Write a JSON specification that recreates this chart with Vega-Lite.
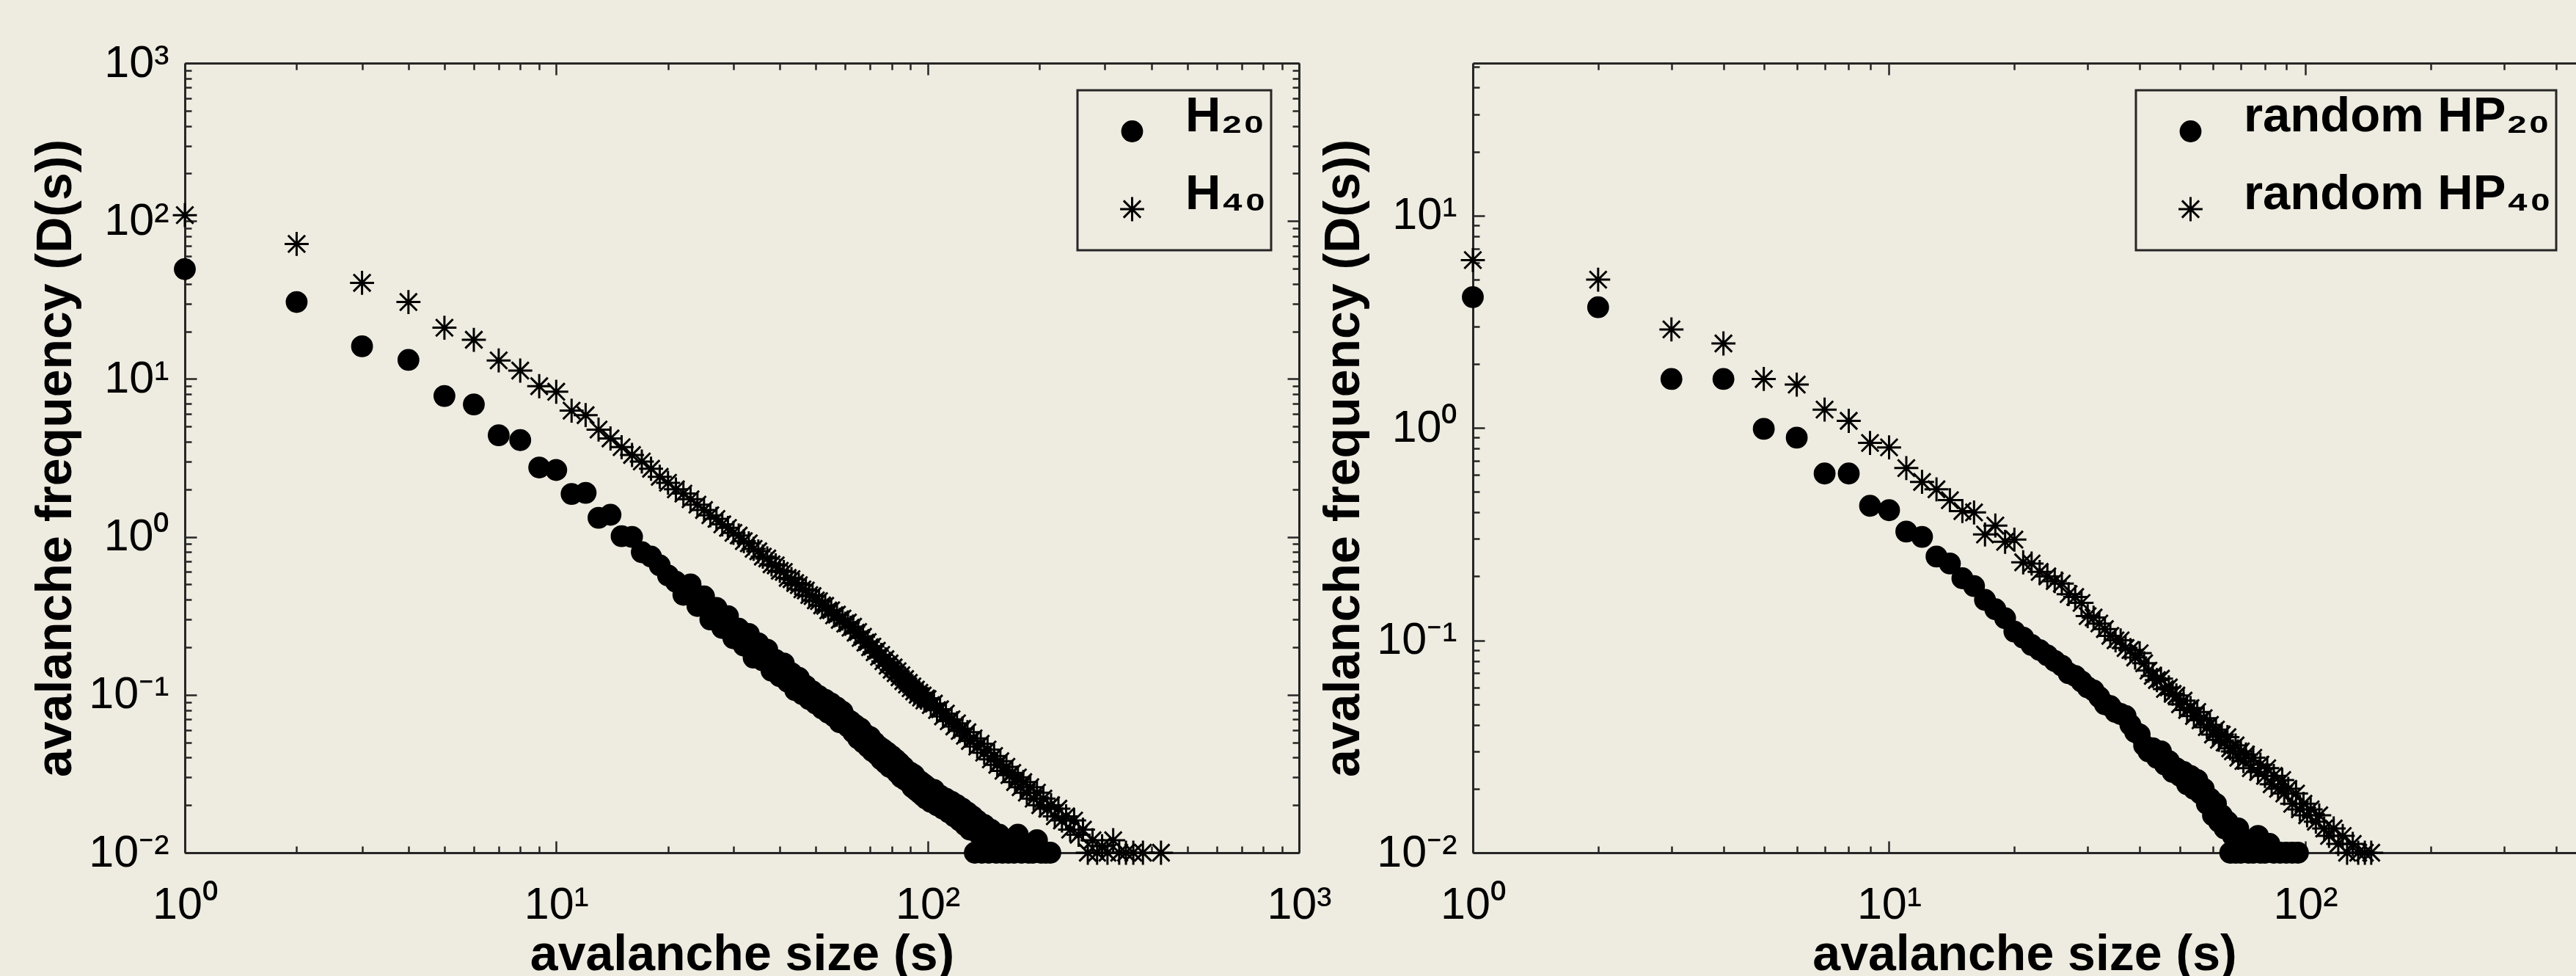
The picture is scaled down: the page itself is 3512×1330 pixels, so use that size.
{
  "$schema": "https://vega.github.io/schema/vega-lite/v6.json",
  "background": "#eeebe0",
  "padding": {"left": 42, "top": 55, "right": 0, "bottom": 0},
  "spacing": 237,
  "bounds": "flush",
  "datasets": {
    "left": [
      {"s":1,"d":49.6,"g":"H20"},{"s":2,"d":30.7,"g":"H20"},{"s":3,"d":16.1,"g":"H20"},{"s":4,"d":13.2,"g":"H20"},{"s":5,"d":7.8,"g":"H20"},{"s":6,"d":6.9,"g":"H20"},{"s":7,"d":4.4,"g":"H20"},{"s":8,"d":4.1,"g":"H20"},{"s":9,"d":2.75,"g":"H20"},{"s":10,"d":2.65,"g":"H20"},
      {"s":11,"d":1.87,"g":"H20"},{"s":12,"d":1.9,"g":"H20"},{"s":13,"d":1.32,"g":"H20"},{"s":14,"d":1.38,"g":"H20"},{"s":15,"d":1.01,"g":"H20"},{"s":16,"d":1.0,"g":"H20"},{"s":17,"d":0.8,"g":"H20"},{"s":18,"d":0.75,"g":"H20"},{"s":19,"d":0.66,"g":"H20"},{"s":20,"d":0.57,"g":"H20"},
      {"s":21,"d":0.52,"g":"H20"},{"s":22,"d":0.43,"g":"H20"},{"s":23,"d":0.5,"g":"H20"},{"s":24,"d":0.365,"g":"H20"},{"s":25,"d":0.42,"g":"H20"},{"s":26,"d":0.3,"g":"H20"},{"s":27,"d":0.355,"g":"H20"},{"s":28,"d":0.265,"g":"H20"},{"s":29,"d":0.315,"g":"H20"},{"s":30,"d":0.228,"g":"H20"},
      {"s":31,"d":0.262,"g":"H20"},{"s":32,"d":0.205,"g":"H20"},{"s":33,"d":0.243,"g":"H20"},{"s":34,"d":0.172,"g":"H20"},{"s":35,"d":0.212,"g":"H20"},{"s":36,"d":0.165,"g":"H20"},{"s":37,"d":0.193,"g":"H20"},{"s":38,"d":0.142,"g":"H20"},{"s":39,"d":0.166,"g":"H20"},{"s":40,"d":0.131,"g":"H20"},
      {"s":41,"d":0.158,"g":"H20"},{"s":42,"d":0.121,"g":"H20"},{"s":43,"d":0.137,"g":"H20"},{"s":44,"d":0.107,"g":"H20"},{"s":45,"d":0.128,"g":"H20"},{"s":46,"d":0.101,"g":"H20"},{"s":47,"d":0.114,"g":"H20"},{"s":48,"d":0.094,"g":"H20"},{"s":49,"d":0.105,"g":"H20"},{"s":50,"d":0.088,"g":"H20"},
      {"s":51,"d":0.098,"g":"H20"},{"s":52,"d":0.082,"g":"H20"},{"s":53,"d":0.093,"g":"H20"},{"s":54,"d":0.077,"g":"H20"},{"s":55,"d":0.088,"g":"H20"},{"s":56,"d":0.073,"g":"H20"},{"s":57,"d":0.083,"g":"H20"},{"s":58,"d":0.067,"g":"H20"},{"s":59,"d":0.078,"g":"H20"},
      {"s":60,"d":0.072,"g":"H20"},{"s":61,"d":0.063,"g":"H20"},{"s":62,"d":0.068,"g":"H20"},{"s":63,"d":0.058,"g":"H20"},{"s":64,"d":0.064,"g":"H20"},{"s":65,"d":0.053,"g":"H20"},{"s":66,"d":0.061,"g":"H20"},{"s":67,"d":0.05,"g":"H20"},{"s":68,"d":0.056,"g":"H20"},{"s":69,"d":0.047,"g":"H20"},
      {"s":70,"d":0.054,"g":"H20"},{"s":71,"d":0.044,"g":"H20"},{"s":72,"d":0.05,"g":"H20"},{"s":73,"d":0.042,"g":"H20"},{"s":74,"d":0.047,"g":"H20"},{"s":75,"d":0.039,"g":"H20"},{"s":76,"d":0.045,"g":"H20"},{"s":77,"d":0.037,"g":"H20"},{"s":78,"d":0.043,"g":"H20"},{"s":79,"d":0.035,"g":"H20"},
      {"s":80,"d":0.041,"g":"H20"},{"s":81,"d":0.034,"g":"H20"},{"s":82,"d":0.039,"g":"H20"},{"s":83,"d":0.032,"g":"H20"},{"s":84,"d":0.037,"g":"H20"},{"s":85,"d":0.03,"g":"H20"},{"s":86,"d":0.035,"g":"H20"},{"s":87,"d":0.029,"g":"H20"},{"s":88,"d":0.033,"g":"H20"},{"s":89,"d":0.028,"g":"H20"},
      {"s":90,"d":0.032,"g":"H20"},{"s":91,"d":0.026,"g":"H20"},{"s":92,"d":0.031,"g":"H20"},{"s":93,"d":0.025,"g":"H20"},{"s":94,"d":0.029,"g":"H20"},{"s":95,"d":0.024,"g":"H20"},{"s":96,"d":0.028,"g":"H20"},{"s":97,"d":0.023,"g":"H20"},{"s":98,"d":0.027,"g":"H20"},{"s":99,"d":0.022,"g":"H20"},
      {"s":100,"d":0.026,"g":"H20"},{"s":102,"d":0.021,"g":"H20"},{"s":104,"d":0.025,"g":"H20"},{"s":106,"d":0.02,"g":"H20"},{"s":108,"d":0.023,"g":"H20"},{"s":110,"d":0.019,"g":"H20"},{"s":112,"d":0.022,"g":"H20"},{"s":114,"d":0.018,"g":"H20"},{"s":116,"d":0.021,"g":"H20"},{"s":118,"d":0.017,"g":"H20"},
      {"s":120,"d":0.02,"g":"H20"},{"s":122,"d":0.016,"g":"H20"},{"s":124,"d":0.019,"g":"H20"},{"s":126,"d":0.015,"g":"H20"},{"s":128,"d":0.018,"g":"H20"},{"s":130,"d":0.014,"g":"H20"},{"s":132,"d":0.017,"g":"H20"},{"s":134,"d":0.01,"g":"H20"},{"s":136,"d":0.016,"g":"H20"},{"s":138,"d":0.013,"g":"H20"},
      {"s":140,"d":0.01,"g":"H20"},{"s":142,"d":0.015,"g":"H20"},{"s":144,"d":0.012,"g":"H20"},{"s":146,"d":0.01,"g":"H20"},{"s":148,"d":0.014,"g":"H20"},{"s":150,"d":0.011,"g":"H20"},{"s":153,"d":0.01,"g":"H20"},{"s":156,"d":0.013,"g":"H20"},{"s":159,"d":0.01,"g":"H20"},{"s":162,"d":0.012,"g":"H20"},
      {"s":165,"d":0.01,"g":"H20"},{"s":168,"d":0.011,"g":"H20"},{"s":171,"d":0.01,"g":"H20"},{"s":175,"d":0.013,"g":"H20"},{"s":179,"d":0.01,"g":"H20"},{"s":183,"d":0.011,"g":"H20"},{"s":187,"d":0.01,"g":"H20"},{"s":192,"d":0.01,"g":"H20"},{"s":197,"d":0.012,"g":"H20"},{"s":202,"d":0.01,"g":"H20"},
      {"s":208,"d":0.01,"g":"H20"},{"s":214,"d":0.01,"g":"H20"},

      {"s":1,"d":109,"g":"H40"},{"s":2,"d":71.6,"g":"H40"},{"s":3,"d":40.6,"g":"H40"},{"s":4,"d":30.7,"g":"H40"},{"s":5,"d":21.1,"g":"H40"},{"s":6,"d":17.7,"g":"H40"},{"s":7,"d":13.1,"g":"H40"},{"s":8,"d":11.3,"g":"H40"},{"s":9,"d":9.0,"g":"H40"},{"s":10,"d":8.3,"g":"H40"},
      {"s":11,"d":6.3,"g":"H40"},{"s":12,"d":5.9,"g":"H40"},{"s":13,"d":4.78,"g":"H40"},{"s":14,"d":4.2,"g":"H40"},{"s":15,"d":3.7,"g":"H40"},{"s":16,"d":3.3,"g":"H40"},{"s":17,"d":3.0,"g":"H40"},{"s":18,"d":2.7,"g":"H40"},{"s":19,"d":2.4,"g":"H40"},{"s":20,"d":2.2,"g":"H40"},
      {"s":21,"d":2.0,"g":"H40"},{"s":22,"d":1.88,"g":"H40"},{"s":23,"d":1.73,"g":"H40"},{"s":24,"d":1.6,"g":"H40"},{"s":25,"d":1.48,"g":"H40"},{"s":26,"d":1.37,"g":"H40"},{"s":27,"d":1.3,"g":"H40"},{"s":28,"d":1.2,"g":"H40"},{"s":29,"d":1.14,"g":"H40"},{"s":30,"d":1.06,"g":"H40"},
      {"s":31,"d":1.02,"g":"H40"},{"s":32,"d":0.94,"g":"H40"},{"s":33,"d":0.91,"g":"H40"},{"s":34,"d":0.84,"g":"H40"},{"s":35,"d":0.81,"g":"H40"},{"s":36,"d":0.75,"g":"H40"},{"s":37,"d":0.73,"g":"H40"},{"s":38,"d":0.67,"g":"H40"},{"s":39,"d":0.66,"g":"H40"},{"s":40,"d":0.61,"g":"H40"},
      {"s":41,"d":0.6,"g":"H40"},{"s":42,"d":0.55,"g":"H40"},{"s":43,"d":0.54,"g":"H40"},{"s":44,"d":0.51,"g":"H40"},{"s":45,"d":0.495,"g":"H40"},{"s":46,"d":0.465,"g":"H40"},{"s":47,"d":0.458,"g":"H40"},{"s":48,"d":0.428,"g":"H40"},{"s":49,"d":0.422,"g":"H40"},{"s":50,"d":0.396,"g":"H40"},
      {"s":51,"d":0.392,"g":"H40"},{"s":52,"d":0.368,"g":"H40"},{"s":53,"d":0.366,"g":"H40"},{"s":54,"d":0.342,"g":"H40"},{"s":55,"d":0.343,"g":"H40"},{"s":56,"d":0.318,"g":"H40"},{"s":57,"d":0.322,"g":"H40"},{"s":58,"d":0.298,"g":"H40"},{"s":59,"d":0.304,"g":"H40"},{"s":60,"d":0.282,"g":"H40"},
      {"s":61,"d":0.287,"g":"H40"},{"s":62,"d":0.266,"g":"H40"},{"s":63,"d":0.27,"g":"H40"},{"s":64,"d":0.247,"g":"H40"},{"s":65,"d":0.25,"g":"H40"},{"s":66,"d":0.229,"g":"H40"},{"s":67,"d":0.233,"g":"H40"},{"s":68,"d":0.214,"g":"H40"},{"s":69,"d":0.216,"g":"H40"},{"s":70,"d":0.2,"g":"H40"},
      {"s":71,"d":0.202,"g":"H40"},{"s":72,"d":0.186,"g":"H40"},{"s":73,"d":0.19,"g":"H40"},{"s":74,"d":0.174,"g":"H40"},{"s":75,"d":0.179,"g":"H40"},{"s":76,"d":0.163,"g":"H40"},{"s":77,"d":0.168,"g":"H40"},{"s":78,"d":0.153,"g":"H40"},{"s":79,"d":0.158,"g":"H40"},{"s":80,"d":0.144,"g":"H40"},
      {"s":81,"d":0.149,"g":"H40"},{"s":82,"d":0.137,"g":"H40"},{"s":83,"d":0.141,"g":"H40"},{"s":84,"d":0.129,"g":"H40"},{"s":85,"d":0.133,"g":"H40"},{"s":86,"d":0.122,"g":"H40"},{"s":87,"d":0.126,"g":"H40"},{"s":88,"d":0.116,"g":"H40"},{"s":89,"d":0.119,"g":"H40"},{"s":90,"d":0.11,"g":"H40"},
      {"s":91,"d":0.113,"g":"H40"},{"s":92,"d":0.105,"g":"H40"},{"s":93,"d":0.108,"g":"H40"},{"s":94,"d":0.1,"g":"H40"},{"s":95,"d":0.103,"g":"H40"},{"s":96,"d":0.096,"g":"H40"},{"s":97,"d":0.099,"g":"H40"},{"s":98,"d":0.092,"g":"H40"},{"s":99,"d":0.095,"g":"H40"},
      {"s":100,"d":0.094,"g":"H40"},{"s":102,"d":0.086,"g":"H40"},{"s":104,"d":0.088,"g":"H40"},{"s":106,"d":0.08,"g":"H40"},{"s":108,"d":0.081,"g":"H40"},{"s":110,"d":0.073,"g":"H40"},{"s":112,"d":0.076,"g":"H40"},{"s":114,"d":0.068,"g":"H40"},{"s":116,"d":0.07,"g":"H40"},{"s":118,"d":0.063,"g":"H40"},
      {"s":120,"d":0.066,"g":"H40"},{"s":122,"d":0.059,"g":"H40"},{"s":124,"d":0.061,"g":"H40"},{"s":126,"d":0.055,"g":"H40"},{"s":128,"d":0.058,"g":"H40"},{"s":130,"d":0.051,"g":"H40"},{"s":133,"d":0.053,"g":"H40"},{"s":136,"d":0.047,"g":"H40"},{"s":139,"d":0.049,"g":"H40"},{"s":142,"d":0.043,"g":"H40"},
      {"s":145,"d":0.045,"g":"H40"},{"s":148,"d":0.039,"g":"H40"},{"s":151,"d":0.041,"g":"H40"},{"s":154,"d":0.036,"g":"H40"},{"s":157,"d":0.038,"g":"H40"},{"s":160,"d":0.033,"g":"H40"},{"s":163,"d":0.035,"g":"H40"},{"s":166,"d":0.031,"g":"H40"},{"s":169,"d":0.032,"g":"H40"},{"s":172,"d":0.028,"g":"H40"},
      {"s":175,"d":0.03,"g":"H40"},{"s":178,"d":0.026,"g":"H40"},{"s":181,"d":0.028,"g":"H40"},{"s":185,"d":0.024,"g":"H40"},{"s":189,"d":0.026,"g":"H40"},{"s":193,"d":0.022,"g":"H40"},{"s":197,"d":0.024,"g":"H40"},{"s":201,"d":0.02,"g":"H40"},{"s":205,"d":0.022,"g":"H40"},{"s":210,"d":0.019,"g":"H40"},
      {"s":215,"d":0.02,"g":"H40"},{"s":220,"d":0.017,"g":"H40"},{"s":225,"d":0.019,"g":"H40"},{"s":230,"d":0.016,"g":"H40"},{"s":236,"d":0.017,"g":"H40"},{"s":242,"d":0.014,"g":"H40"},{"s":248,"d":0.016,"g":"H40"},{"s":255,"d":0.013,"g":"H40"},{"s":262,"d":0.014,"g":"H40"},{"s":270,"d":0.01,"g":"H40"},
      {"s":278,"d":0.012,"g":"H40"},{"s":286,"d":0.01,"g":"H40"},{"s":295,"d":0.011,"g":"H40"},{"s":305,"d":0.01,"g":"H40"},{"s":316,"d":0.012,"g":"H40"},{"s":328,"d":0.01,"g":"H40"},{"s":342,"d":0.01,"g":"H40"},{"s":358,"d":0.01,"g":"H40"},{"s":380,"d":0.01,"g":"H40"},{"s":425,"d":0.01,"g":"H40"}
    ],
    "right": [
      {"s":1,"d":4.13,"g":"HP20"},{"s":2,"d":3.7,"g":"HP20"},{"s":3,"d":1.7,"g":"HP20"},{"s":4,"d":1.7,"g":"HP20"},{"s":5,"d":0.99,"g":"HP20"},{"s":6,"d":0.9,"g":"HP20"},{"s":7,"d":0.61,"g":"HP20"},{"s":8,"d":0.61,"g":"HP20"},{"s":9,"d":0.43,"g":"HP20"},{"s":10,"d":0.41,"g":"HP20"},
      {"s":11,"d":0.325,"g":"HP20"},{"s":12,"d":0.307,"g":"HP20"},{"s":13,"d":0.248,"g":"HP20"},{"s":14,"d":0.23,"g":"HP20"},{"s":15,"d":0.196,"g":"HP20"},{"s":16,"d":0.18,"g":"HP20"},{"s":17,"d":0.155,"g":"HP20"},{"s":18,"d":0.14,"g":"HP20"},{"s":19,"d":0.127,"g":"HP20"},{"s":20,"d":0.11,"g":"HP20"},
      {"s":21,"d":0.103,"g":"HP20"},{"s":22,"d":0.095,"g":"HP20"},{"s":23,"d":0.09,"g":"HP20"},{"s":24,"d":0.085,"g":"HP20"},{"s":25,"d":0.08,"g":"HP20"},{"s":26,"d":0.076,"g":"HP20"},{"s":27,"d":0.07,"g":"HP20"},{"s":28,"d":0.068,"g":"HP20"},{"s":29,"d":0.064,"g":"HP20"},{"s":30,"d":0.06,"g":"HP20"},
      {"s":31,"d":0.058,"g":"HP20"},{"s":32,"d":0.054,"g":"HP20"},{"s":33,"d":0.05,"g":"HP20"},{"s":34,"d":0.049,"g":"HP20"},{"s":35,"d":0.046,"g":"HP20"},{"s":36,"d":0.045,"g":"HP20"},{"s":37,"d":0.044,"g":"HP20"},{"s":38,"d":0.04,"g":"HP20"},{"s":39,"d":0.037,"g":"HP20"},{"s":40,"d":0.036,"g":"HP20"},
      {"s":41,"d":0.032,"g":"HP20"},{"s":42,"d":0.03,"g":"HP20"},{"s":43,"d":0.031,"g":"HP20"},{"s":44,"d":0.028,"g":"HP20"},{"s":45,"d":0.03,"g":"HP20"},{"s":46,"d":0.026,"g":"HP20"},{"s":47,"d":0.027,"g":"HP20"},{"s":48,"d":0.024,"g":"HP20"},{"s":49,"d":0.025,"g":"HP20"},{"s":50,"d":0.023,"g":"HP20"},
      {"s":51,"d":0.024,"g":"HP20"},{"s":52,"d":0.021,"g":"HP20"},{"s":53,"d":0.023,"g":"HP20"},{"s":54,"d":0.02,"g":"HP20"},{"s":55,"d":0.022,"g":"HP20"},{"s":56,"d":0.019,"g":"HP20"},{"s":57,"d":0.02,"g":"HP20"},{"s":58,"d":0.017,"g":"HP20"},{"s":59,"d":0.018,"g":"HP20"},{"s":60,"d":0.015,"g":"HP20"},
      {"s":61,"d":0.017,"g":"HP20"},{"s":62,"d":0.014,"g":"HP20"},{"s":63,"d":0.015,"g":"HP20"},{"s":64,"d":0.013,"g":"HP20"},{"s":65,"d":0.014,"g":"HP20"},{"s":66,"d":0.01,"g":"HP20"},{"s":67,"d":0.012,"g":"HP20"},{"s":68,"d":0.01,"g":"HP20"},{"s":69,"d":0.013,"g":"HP20"},{"s":70,"d":0.01,"g":"HP20"},
      {"s":72,"d":0.011,"g":"HP20"},{"s":73,"d":0.01,"g":"HP20"},{"s":75,"d":0.01,"g":"HP20"},{"s":77,"d":0.012,"g":"HP20"},{"s":78,"d":0.01,"g":"HP20"},{"s":80,"d":0.01,"g":"HP20"},{"s":82,"d":0.011,"g":"HP20"},{"s":84,"d":0.01,"g":"HP20"},{"s":87,"d":0.01,"g":"HP20"},{"s":90,"d":0.01,"g":"HP20"},
      {"s":93,"d":0.01,"g":"HP20"},{"s":96,"d":0.01,"g":"HP20"},

      {"s":1,"d":6.17,"g":"HP40"},{"s":2,"d":4.99,"g":"HP40"},{"s":3,"d":2.91,"g":"HP40"},{"s":4,"d":2.5,"g":"HP40"},{"s":5,"d":1.7,"g":"HP40"},{"s":6,"d":1.6,"g":"HP40"},{"s":7,"d":1.22,"g":"HP40"},{"s":8,"d":1.08,"g":"HP40"},{"s":9,"d":0.85,"g":"HP40"},{"s":10,"d":0.81,"g":"HP40"},
      {"s":11,"d":0.647,"g":"HP40"},{"s":12,"d":0.557,"g":"HP40"},{"s":13,"d":0.514,"g":"HP40"},{"s":14,"d":0.457,"g":"HP40"},{"s":15,"d":0.406,"g":"HP40"},{"s":16,"d":0.4,"g":"HP40"},{"s":17,"d":0.315,"g":"HP40"},{"s":18,"d":0.347,"g":"HP40"},{"s":19,"d":0.291,"g":"HP40"},{"s":20,"d":0.298,"g":"HP40"},
      {"s":21,"d":0.233,"g":"HP40"},{"s":22,"d":0.23,"g":"HP40"},{"s":23,"d":0.21,"g":"HP40"},{"s":24,"d":0.2,"g":"HP40"},{"s":25,"d":0.19,"g":"HP40"},{"s":26,"d":0.185,"g":"HP40"},{"s":27,"d":0.165,"g":"HP40"},{"s":28,"d":0.16,"g":"HP40"},{"s":29,"d":0.15,"g":"HP40"},{"s":30,"d":0.13,"g":"HP40"},
      {"s":31,"d":0.128,"g":"HP40"},{"s":32,"d":0.12,"g":"HP40"},{"s":33,"d":0.113,"g":"HP40"},{"s":34,"d":0.105,"g":"HP40"},{"s":35,"d":0.1,"g":"HP40"},{"s":36,"d":0.1,"g":"HP40"},{"s":37,"d":0.092,"g":"HP40"},{"s":38,"d":0.09,"g":"HP40"},{"s":39,"d":0.083,"g":"HP40"},{"s":40,"d":0.087,"g":"HP40"},
      {"s":41,"d":0.078,"g":"HP40"},{"s":42,"d":0.072,"g":"HP40"},{"s":43,"d":0.068,"g":"HP40"},{"s":44,"d":0.065,"g":"HP40"},{"s":45,"d":0.066,"g":"HP40"},{"s":46,"d":0.059,"g":"HP40"},{"s":47,"d":0.06,"g":"HP40"},{"s":48,"d":0.056,"g":"HP40"},{"s":49,"d":0.055,"g":"HP40"},{"s":50,"d":0.05,"g":"HP40"},
      {"s":51,"d":0.052,"g":"HP40"},{"s":52,"d":0.047,"g":"HP40"},{"s":53,"d":0.048,"g":"HP40"},{"s":54,"d":0.044,"g":"HP40"},{"s":55,"d":0.046,"g":"HP40"},{"s":56,"d":0.042,"g":"HP40"},{"s":57,"d":0.043,"g":"HP40"},{"s":58,"d":0.039,"g":"HP40"},{"s":59,"d":0.04,"g":"HP40"},{"s":60,"d":0.036,"g":"HP40"},
      {"s":61,"d":0.038,"g":"HP40"},{"s":62,"d":0.034,"g":"HP40"},{"s":63,"d":0.036,"g":"HP40"},{"s":64,"d":0.033,"g":"HP40"},{"s":65,"d":0.035,"g":"HP40"},{"s":66,"d":0.031,"g":"HP40"},{"s":67,"d":0.03,"g":"HP40"},{"s":68,"d":0.032,"g":"HP40"},{"s":69,"d":0.028,"g":"HP40"},{"s":70,"d":0.03,"g":"HP40"},
      {"s":71,"d":0.027,"g":"HP40"},{"s":72,"d":0.029,"g":"HP40"},{"s":74,"d":0.025,"g":"HP40"},{"s":75,"d":0.028,"g":"HP40"},{"s":77,"d":0.024,"g":"HP40"},{"s":78,"d":0.026,"g":"HP40"},{"s":80,"d":0.023,"g":"HP40"},{"s":81,"d":0.025,"g":"HP40"},{"s":83,"d":0.021,"g":"HP40"},{"s":84,"d":0.023,"g":"HP40"},
      {"s":86,"d":0.02,"g":"HP40"},{"s":88,"d":0.022,"g":"HP40"},{"s":89,"d":0.019,"g":"HP40"},{"s":91,"d":0.02,"g":"HP40"},{"s":93,"d":0.017,"g":"HP40"},{"s":95,"d":0.019,"g":"HP40"},{"s":97,"d":0.016,"g":"HP40"},{"s":99,"d":0.017,"g":"HP40"},{"s":101,"d":0.015,"g":"HP40"},{"s":103,"d":0.016,"g":"HP40"},
      {"s":106,"d":0.014,"g":"HP40"},{"s":108,"d":0.015,"g":"HP40"},{"s":111,"d":0.013,"g":"HP40"},{"s":114,"d":0.012,"g":"HP40"},{"s":117,"d":0.013,"g":"HP40"},{"s":120,"d":0.011,"g":"HP40"},{"s":123,"d":0.012,"g":"HP40"},{"s":126,"d":0.01,"g":"HP40"},{"s":130,"d":0.011,"g":"HP40"},{"s":134,"d":0.01,"g":"HP40"},
      {"s":139,"d":0.01,"g":"HP40"},{"s":144,"d":0.01,"g":"HP40"}
    ]
  },
  "hconcat": [
    {
      "width": 1519,
      "height": 1076,
      "data": {"name": "left"},
      "view": {"stroke": null},
      "layer": [
        {
          "transform": [{"filter": "datum.g == 'H20'"}],
          "mark": {"type": "point", "opacity": 1, "strokeWidth": 3, "size": 890, "clip": false},
          "encoding": {
            "x": {"field": "s", "type": "quantitative",
              "scale": {"type": "log", "domain": [1, 1000], "nice": false},
              "axis": {"orient": "bottom", "values": [1,2,3,4,5,6,7,8,9,10,20,30,40,50,60,70,80,90,100,200,300,400,500,600,700,800,900,1000],
                "labelExpr": "datum.value == 1 ? '10⁰' : datum.value == 10 ? '10¹' : datum.value == 100 ? '10²' : datum.value == 1000 ? '10³' : ''",
                "tickSize": {"condition": {"test": "datum.value == 1 || datum.value == 10 || datum.value == 100 || datum.value == 1000", "value": -16}, "value": -9},
                "labelPadding": 57, "title": "avalanche size (s)", "titlePadding": -3}},
            "y": {"field": "d", "type": "quantitative",
              "scale": {"type": "log", "domain": [0.01, 1000], "nice": false},
              "axis": {"orient": "left", "values": [0.01,0.02,0.03,0.04,0.05,0.06,0.07,0.08,0.09,0.1,0.2,0.3,0.4,0.5,0.6,0.7,0.8,0.9,1,2,3,4,5,6,7,8,9,10,20,30,40,50,60,70,80,90,100,200,300,400,500,600,700,800,900,1000],
                "labelExpr": "datum.value == 0.01 ? '10⁻²' : datum.value == 0.1 ? '10⁻¹' : datum.value == 1 ? '10⁰' : datum.value == 10 ? '10¹' : datum.value == 100 ? '10²' : datum.value == 1000 ? '10³' : ''",
                "tickSize": {"condition": {"test": "datum.value == 0.01 || datum.value == 0.1 || datum.value == 1 || datum.value == 10 || datum.value == 100 || datum.value == 1000", "value": -16}, "value": -9},
                "labelPadding": 38, "title": "avalanche frequency (D(s))", "titlePadding": 10}},
            "shape": {"field": "g", "type": "nominal",
              "scale": {"domain": ["H20", "H40"], "range": ["circle", "M-1.1,0H1.1M0,-1.1V1.1M-0.78,-0.78L0.78,0.78M-0.78,0.78L0.78,-0.78"]},
              "legend": {"orient": "none", "legendX": 1217, "legendY": 37, "title": null, "labelExpr": "datum.label == 'H20' ? 'H₂₀' : 'H₄₀'"}},
            "fill": {"field": "g", "type": "nominal",
              "scale": {"domain": ["H20", "H40"], "range": ["#000000", "transparent"]},
              "legend": {"orient": "none", "legendX": 1217, "legendY": 37, "title": null, "labelExpr": "datum.label == 'H20' ? 'H₂₀' : 'H₄₀'"}},
            "stroke": {"field": "g", "type": "nominal",
              "scale": {"domain": ["H20", "H40"], "range": ["transparent", "#000000"]},
              "legend": {"orient": "none", "legendX": 1217, "legendY": 37, "title": null, "labelExpr": "datum.label == 'H20' ? 'H₂₀' : 'H₄₀'"}}
          }
        },
        {
          "transform": [{"filter": "datum.g == 'H40'"}],
          "mark": {"type": "point", "opacity": 1, "strokeWidth": 3, "size": 890, "clip": false},
          "encoding": {
            "x": {"field": "s", "type": "quantitative",
              "scale": {"type": "log", "domain": [1, 1000], "nice": false},
              "axis": {"orient": "top", "values": [1,2,3,4,5,6,7,8,9,10,20,30,40,50,60,70,80,90,100,200,300,400,500,600,700,800,900,1000],
                "labels": false, "title": null,
                "tickSize": {"condition": {"test": "datum.value == 1 || datum.value == 10 || datum.value == 100 || datum.value == 1000", "value": -16}, "value": -9}}},
            "y": {"field": "d", "type": "quantitative",
              "scale": {"type": "log", "domain": [0.01, 1000], "nice": false},
              "axis": {"orient": "right", "values": [0.01,0.02,0.03,0.04,0.05,0.06,0.07,0.08,0.09,0.1,0.2,0.3,0.4,0.5,0.6,0.7,0.8,0.9,1,2,3,4,5,6,7,8,9,10,20,30,40,50,60,70,80,90,100,200,300,400,500,600,700,800,900,1000],
                "labels": false, "title": null,
                "tickSize": {"condition": {"test": "datum.value == 0.01 || datum.value == 0.1 || datum.value == 1 || datum.value == 10 || datum.value == 100 || datum.value == 1000", "value": -16}, "value": -9}}},
            "shape": {"field": "g", "type": "nominal",
              "scale": {"domain": ["H20", "H40"], "range": ["circle", "M-1.1,0H1.1M0,-1.1V1.1M-0.78,-0.78L0.78,0.78M-0.78,0.78L0.78,-0.78"]},
              "legend": {"orient": "none", "legendX": 1217, "legendY": 37, "title": null, "labelExpr": "datum.label == 'H20' ? 'H₂₀' : 'H₄₀'"}},
            "fill": {"field": "g", "type": "nominal",
              "scale": {"domain": ["H20", "H40"], "range": ["#000000", "transparent"]},
              "legend": {"orient": "none", "legendX": 1217, "legendY": 37, "title": null, "labelExpr": "datum.label == 'H20' ? 'H₂₀' : 'H₄₀'"}},
            "stroke": {"field": "g", "type": "nominal",
              "scale": {"domain": ["H20", "H40"], "range": ["transparent", "#000000"]},
              "legend": {"orient": "none", "legendX": 1217, "legendY": 37, "title": null, "labelExpr": "datum.label == 'H20' ? 'H₂₀' : 'H₄₀'"}}
          }
        }
      ],
      "resolve": {"axis": {"x": "independent", "y": "independent"}}
    },
    {
      "width": 1504,
      "height": 1076,
      "data": {"name": "right"},
      "view": {"stroke": null},
      "layer": [
        {
          "transform": [{"filter": "datum.g == 'HP20'"}],
          "mark": {"type": "point", "opacity": 1, "strokeWidth": 3, "size": 890, "clip": false},
          "encoding": {
            "x": {"field": "s", "type": "quantitative",
              "scale": {"type": "log", "domain": [1, 447], "nice": false},
              "axis": {"orient": "bottom", "values": [1,2,3,4,5,6,7,8,9,10,20,30,40,50,60,70,80,90,100,200,300,400],
                "labelExpr": "datum.value == 1 ? '10⁰' : datum.value == 10 ? '10¹' : datum.value == 100 ? '10²' : ''",
                "tickSize": {"condition": {"test": "datum.value == 1 || datum.value == 10 || datum.value == 100", "value": -16}, "value": -9},
                "labelPadding": 57, "title": "avalanche size (s)", "titlePadding": -3}},
            "y": {"field": "d", "type": "quantitative",
              "scale": {"type": "log", "domain": [0.01, 52.2], "nice": false},
              "axis": {"orient": "left", "values": [0.01,0.02,0.03,0.04,0.05,0.06,0.07,0.08,0.09,0.1,0.2,0.3,0.4,0.5,0.6,0.7,0.8,0.9,1,2,3,4,5,6,7,8,9,10,20,30,40,50],
                "labelExpr": "datum.value == 0.01 ? '10⁻²' : datum.value == 0.1 ? '10⁻¹' : datum.value == 1 ? '10⁰' : datum.value == 10 ? '10¹' : ''",
                "tickSize": {"condition": {"test": "datum.value == 0.01 || datum.value == 0.1 || datum.value == 1 || datum.value == 10", "value": -16}, "value": -9},
                "labelPadding": 38, "title": "avalanche frequency (D(s))", "titlePadding": 10}},
            "shape": {"field": "g", "type": "nominal",
              "scale": {"domain": ["HP20", "HP40"], "range": ["circle", "M-1.1,0H1.1M0,-1.1V1.1M-0.78,-0.78L0.78,0.78M-0.78,0.78L0.78,-0.78"]},
              "legend": {"orient": "none", "legendX": 904, "legendY": 37, "title": null, "labelExpr": "datum.label == 'HP20' ? 'random HP₂₀' : 'random HP₄₀'"}},
            "fill": {"field": "g", "type": "nominal",
              "scale": {"domain": ["HP20", "HP40"], "range": ["#000000", "transparent"]},
              "legend": {"orient": "none", "legendX": 904, "legendY": 37, "title": null, "labelExpr": "datum.label == 'HP20' ? 'random HP₂₀' : 'random HP₄₀'"}},
            "stroke": {"field": "g", "type": "nominal",
              "scale": {"domain": ["HP20", "HP40"], "range": ["transparent", "#000000"]},
              "legend": {"orient": "none", "legendX": 904, "legendY": 37, "title": null, "labelExpr": "datum.label == 'HP20' ? 'random HP₂₀' : 'random HP₄₀'"}}
          }
        },
        {
          "transform": [{"filter": "datum.g == 'HP40'"}],
          "mark": {"type": "point", "opacity": 1, "strokeWidth": 3, "size": 890, "clip": false},
          "encoding": {
            "x": {"field": "s", "type": "quantitative",
              "scale": {"type": "log", "domain": [1, 447], "nice": false},
              "axis": {"orient": "top", "values": [1,2,3,4,5,6,7,8,9,10,20,30,40,50,60,70,80,90,100,200,300,400],
                "labels": false, "title": null,
                "tickSize": {"condition": {"test": "datum.value == 1 || datum.value == 10 || datum.value == 100", "value": -16}, "value": -9}}},
            "y": {"field": "d", "type": "quantitative",
              "scale": {"type": "log", "domain": [0.01, 52.2], "nice": false},
              "axis": null},
            "shape": {"field": "g", "type": "nominal",
              "scale": {"domain": ["HP20", "HP40"], "range": ["circle", "M-1.1,0H1.1M0,-1.1V1.1M-0.78,-0.78L0.78,0.78M-0.78,0.78L0.78,-0.78"]},
              "legend": {"orient": "none", "legendX": 904, "legendY": 37, "title": null, "labelExpr": "datum.label == 'HP20' ? 'random HP₂₀' : 'random HP₄₀'"}},
            "fill": {"field": "g", "type": "nominal",
              "scale": {"domain": ["HP20", "HP40"], "range": ["#000000", "transparent"]},
              "legend": {"orient": "none", "legendX": 904, "legendY": 37, "title": null, "labelExpr": "datum.label == 'HP20' ? 'random HP₂₀' : 'random HP₄₀'"}},
            "stroke": {"field": "g", "type": "nominal",
              "scale": {"domain": ["HP20", "HP40"], "range": ["transparent", "#000000"]},
              "legend": {"orient": "none", "legendX": 904, "legendY": 37, "title": null, "labelExpr": "datum.label == 'HP20' ? 'random HP₂₀' : 'random HP₄₀'"}}
          }
        }
      ],
      "resolve": {"axis": {"x": "independent", "y": "independent"}}
    }
  ],
  "resolve": {"scale": {"shape": "independent", "fill": "independent", "stroke": "independent"}, "legend": {"shape": "independent", "fill": "independent", "stroke": "independent"}},
  "config": {
    "font": "Liberation Sans",
    "view": {"stroke": null},
    "axis": {
      "domainColor": "#262626", "domainWidth": 3, "tickColor": "#262626", "tickWidth": 2.5, "grid": false,
      "labelFont": "Liberation Sans", "labelFontSize": 61, "labelColor": "#000000",
      "labelFlush": false, "labelOverlap": false, "labelBound": false,
      "titleFont": "Liberation Sans", "titleFontSize": 68, "titleFontWeight": "bold", "titleColor": "#000000"
    },
    "legend": {
      "strokeColor": "#262626", "strokeWidth": 3, "padding": 6, "symbolOffset": 35, "labelOffset": 39,
      "labelFont": "Liberation Sans", "labelFontSize": 67, "labelFontWeight": "bold", "labelColor": "#000000",
      "labelBaseline": "alphabetic", "labelLimit": 1000, "symbolSize": 890, "symbolStrokeWidth": 3,
      "symbolOpacity": 1, "rowPadding": 2, "clipHeight": 100
    }
  }
}
